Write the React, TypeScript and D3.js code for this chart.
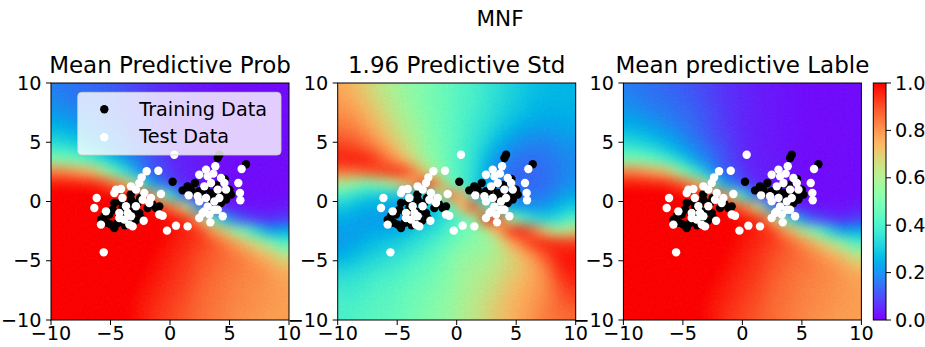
import React from "react";
import * as d3 from "d3";

// ---------- data ----------
const cellCentersX = [-9.5, -8.5, -7.5, -6.5, -5.5, -4.5, -3.5, -2.5, -1.5, -0.5, 0.5, 1.5, 2.5, 3.5, 4.5, 5.5, 6.5, 7.5, 8.5, 9.5];
const cellCentersY = [9.5, 8.5, 7.5, 6.5, 5.5, 4.5, 3.5, 2.5, 1.5, 0.5, -0.5, -1.5, -2.5, -3.5, -4.5, -5.5, -6.5, -7.5, -8.5, -9.5];
const axisTicks = [-10, -5, 0, 5, 10];
const colorbarTicks = [0, 0.2, 0.4, 0.6, 0.8, 1.0];
const titles = ["Mean Predictive Prob", "1.96 Predictive Std", "Mean predictive Lable"];
const legendLabels = ["Training Data", "Test Data"];

// mean predictive probability, rows from y=9.5 (top) to y=-9.5 (bottom)
const meanProbRows = [
  [0.17, 0.16, 0.15, 0.14, 0.13, 0.12, 0.10, 0.09, 0.07, 0.06, 0.05, 0.04, 0.035, 0.03, 0.025, 0.02, 0.02, 0.02, 0.02, 0.02],
  [0.19, 0.17, 0.16, 0.15, 0.14, 0.13, 0.11, 0.09, 0.07, 0.06, 0.05, 0.04, 0.035, 0.03, 0.025, 0.02, 0.02, 0.02, 0.02, 0.02],
  [0.21, 0.2, 0.18, 0.17, 0.15, 0.14, 0.12, 0.1, 0.08, 0.06, 0.05, 0.04, 0.035, 0.03, 0.025, 0.02, 0.02, 0.02, 0.02, 0.02],
  [0.25, 0.23, 0.21, 0.19, 0.17, 0.15, 0.13, 0.1, 0.08, 0.06, 0.05, 0.04, 0.035, 0.03, 0.025, 0.02, 0.02, 0.02, 0.02, 0.02],
  [0.3, 0.28, 0.26, 0.23, 0.2, 0.17, 0.14, 0.11, 0.09, 0.065, 0.05, 0.04, 0.035, 0.03, 0.025, 0.02, 0.02, 0.02, 0.02, 0.02],
  [0.38, 0.36, 0.33, 0.29, 0.25, 0.2, 0.17, 0.13, 0.1, 0.07, 0.05, 0.04, 0.035, 0.03, 0.025, 0.02, 0.02, 0.02, 0.02, 0.02],
  [0.52, 0.5, 0.47, 0.42, 0.35, 0.27, 0.2, 0.16, 0.11, 0.08, 0.05, 0.045, 0.04, 0.03, 0.025, 0.02, 0.02, 0.02, 0.02, 0.02],
  [0.82, 0.8, 0.76, 0.72, 0.6, 0.46, 0.33, 0.2, 0.12, 0.1, 0.06, 0.045, 0.04, 0.03, 0.025, 0.02, 0.02, 0.02, 0.02, 0.02],
  [0.96, 0.96, 0.95, 0.94, 0.9, 0.82, 0.7, 0.48, 0.25, 0.14, 0.08, 0.05, 0.04, 0.03, 0.025, 0.02, 0.02, 0.02, 0.02, 0.02],
  [1, 1, 1, 1, 0.99, 0.98, 0.96, 0.9, 0.8, 0.5, 0.3, 0.1, 0.05, 0.035, 0.03, 0.025, 0.02, 0.02, 0.02, 0.02],
  [1, 1, 1, 1, 1, 1, 1, 0.99, 0.98, 0.9, 0.8, 0.6, 0.2, 0.1, 0.05, 0.04, 0.03, 0.03, 0.03, 0.04],
  [1, 1, 1, 1, 1, 1, 1, 1, 1, 0.98, 0.96, 0.92, 0.75, 0.5, 0.3, 0.15, 0.1, 0.07, 0.06, 0.08],
  [1, 1, 1, 1, 1, 1, 1, 1, 1, 0.99, 0.97, 0.95, 0.92, 0.8, 0.7, 0.55, 0.45, 0.32, 0.22, 0.25],
  [1, 1, 1, 1, 1, 1, 1, 1, 1, 0.98, 0.96, 0.94, 0.92, 0.89, 0.84, 0.78, 0.7, 0.62, 0.52, 0.42],
  [1, 1, 1, 1, 1, 1, 1, 1, 0.99, 0.97, 0.95, 0.93, 0.9, 0.88, 0.86, 0.83, 0.8, 0.75, 0.7, 0.62],
  [1, 1, 1, 1, 1, 1, 1, 1, 0.98, 0.96, 0.94, 0.92, 0.89, 0.87, 0.85, 0.84, 0.82, 0.8, 0.77, 0.73],
  [1, 1, 1, 1, 1, 1, 1, 0.99, 0.97, 0.95, 0.93, 0.91, 0.88, 0.86, 0.84, 0.83, 0.82, 0.81, 0.79, 0.77],
  [1, 1, 1, 1, 1, 1, 1, 0.98, 0.96, 0.94, 0.92, 0.9, 0.87, 0.85, 0.84, 0.82, 0.81, 0.8, 0.79, 0.78],
  [1, 1, 1, 1, 1, 1, 0.99, 0.97, 0.95, 0.93, 0.91, 0.89, 0.86, 0.85, 0.83, 0.82, 0.81, 0.8, 0.79, 0.78],
  [1, 1, 1, 1, 1, 1, 0.99, 0.97, 0.94, 0.92, 0.9, 0.88, 0.86, 0.84, 0.83, 0.81, 0.8, 0.79, 0.78, 0.78],
];

// normalised 1.96 predictive std, columns from x=-9.5 (left) to x=9.5 (right), each top -> bottom
const stdColumns = [
  [0.76, 0.78, 0.8, 0.83, 0.87, 0.92, 0.95, 0.85, 0.6, 0.4, 0.3, 0.25, 0.22, 0.22, 0.25, 0.3, 0.35, 0.38, 0.4, 0.4],
  [0.73, 0.75, 0.78, 0.81, 0.85, 0.9, 0.96, 0.85, 0.55, 0.35, 0.27, 0.23, 0.22, 0.24, 0.27, 0.32, 0.36, 0.38, 0.4, 0.42],
  [0.69, 0.71, 0.74, 0.77, 0.81, 0.87, 0.95, 0.88, 0.5, 0.32, 0.25, 0.22, 0.23, 0.26, 0.3, 0.34, 0.38, 0.4, 0.42, 0.43],
  [0.64, 0.66, 0.69, 0.72, 0.76, 0.82, 0.9, 0.9, 0.55, 0.3, 0.24, 0.22, 0.24, 0.28, 0.32, 0.36, 0.4, 0.42, 0.43, 0.44],
  [0.6, 0.62, 0.64, 0.67, 0.7, 0.75, 0.83, 0.93, 0.6, 0.3, 0.22, 0.21, 0.24, 0.3, 0.34, 0.38, 0.41, 0.43, 0.44, 0.45],
  [0.56, 0.57, 0.59, 0.61, 0.64, 0.68, 0.75, 0.92, 0.7, 0.3, 0.22, 0.22, 0.26, 0.32, 0.36, 0.4, 0.43, 0.45, 0.46, 0.47],
  [0.53, 0.54, 0.55, 0.57, 0.59, 0.61, 0.66, 0.82, 0.8, 0.3, 0.22, 0.24, 0.3, 0.35, 0.39, 0.43, 0.45, 0.47, 0.48, 0.49],
  [0.5, 0.5, 0.51, 0.52, 0.53, 0.54, 0.57, 0.65, 0.93, 0.35, 0.25, 0.28, 0.33, 0.38, 0.42, 0.45, 0.47, 0.49, 0.5, 0.51],
  [0.48, 0.48, 0.48, 0.48, 0.49, 0.5, 0.5, 0.55, 0.8, 0.55, 0.3, 0.32, 0.37, 0.42, 0.45, 0.48, 0.5, 0.51, 0.52, 0.53],
  [0.45, 0.45, 0.45, 0.45, 0.45, 0.45, 0.45, 0.45, 0.5, 0.85, 0.45, 0.38, 0.42, 0.46, 0.5, 0.52, 0.53, 0.54, 0.55, 0.56],
  [0.42, 0.42, 0.42, 0.41, 0.41, 0.4, 0.4, 0.4, 0.4, 0.75, 0.75, 0.45, 0.47, 0.5, 0.54, 0.56, 0.57, 0.58, 0.59, 0.6],
  [0.4, 0.4, 0.39, 0.38, 0.37, 0.36, 0.35, 0.34, 0.33, 0.35, 0.9, 0.55, 0.5, 0.53, 0.56, 0.58, 0.6, 0.61, 0.62, 0.63],
  [0.37, 0.37, 0.36, 0.35, 0.33, 0.3, 0.27, 0.25, 0.24, 0.25, 0.5, 0.95, 0.6, 0.55, 0.58, 0.6, 0.62, 0.64, 0.66, 0.67],
  [0.35, 0.34, 0.33, 0.31, 0.28, 0.24, 0.2, 0.18, 0.17, 0.2, 0.35, 0.9, 0.75, 0.62, 0.62, 0.64, 0.66, 0.68, 0.7, 0.71],
  [0.32, 0.31, 0.3, 0.28, 0.24, 0.2, 0.17, 0.15, 0.15, 0.17, 0.25, 0.6, 0.92, 0.75, 0.68, 0.68, 0.7, 0.72, 0.73, 0.74],
  [0.3, 0.29, 0.28, 0.25, 0.21, 0.18, 0.15, 0.14, 0.14, 0.16, 0.22, 0.45, 0.95, 0.85, 0.74, 0.72, 0.73, 0.75, 0.76, 0.77],
  [0.28, 0.27, 0.26, 0.23, 0.2, 0.17, 0.15, 0.14, 0.14, 0.16, 0.2, 0.35, 0.85, 0.93, 0.82, 0.77, 0.77, 0.78, 0.79, 0.8],
  [0.27, 0.26, 0.25, 0.23, 0.2, 0.17, 0.16, 0.15, 0.15, 0.17, 0.22, 0.32, 0.7, 0.95, 0.9, 0.84, 0.81, 0.81, 0.82, 0.83],
  [0.26, 0.26, 0.25, 0.23, 0.21, 0.19, 0.17, 0.17, 0.17, 0.2, 0.26, 0.35, 0.6, 0.93, 0.96, 0.93, 0.9, 0.87, 0.86, 0.85],
  [0.26, 0.26, 0.25, 0.24, 0.22, 0.2, 0.19, 0.19, 0.2, 0.24, 0.3, 0.42, 0.65, 0.92, 0.97, 0.97, 0.95, 0.92, 0.89, 0.86],
];

// mean predictive label looks the same as the mean predictive probability
const meanLabelRows = meanProbRows;

const trainingPoints: [number, number][] = [
  [0.22, 1.67], [4.15, 3.95], [4.01, 3.67], [6.39, 3.14], [1.06, 0.94], [1.48, 1.28], [2.1, 1.56], [1.76, 1.0],
  [2.46, 0.86], [4.99, 1.0], [5.13, 0.58], [4.71, 0.16], [4.29, -0.13], [3.45, 0.72], [2.75, 0.86], [3.0, 1.2],
  [3.9, 1.4], [4.5, 0.6], [3.2, 0.2], [2.2, 0.6], [4.6, 1.9], [3.8, 0.4],
  [-5.8, -1.53], [-5.52, -1.25], [-5.1, -1.11], [-4.82, -0.69], [-4.68, -0.13], [-4.96, -1.95], [-4.68, -2.24],
  [-4.4, -1.81], [-3.98, -0.55], [-3.56, -0.27], [-3.0, -0.83], [-2.58, -0.97], [-2.44, -1.39], [-0.9, -0.41],
  [-1.18, -0.55], [-1.88, -0.55], [-3.28, 0.15], [-2.72, -0.13], [-4.12, -0.01], [-3.56, -1.53], [-4.3, -1.0],
  [-3.8, -2.0], [-2.9, -1.6], [-3.3, 0.6], [-2.5, 0.3], [-1.5, -0.2], [-5.3, -1.8], [-4.0, -1.2], [-3.4, -0.9],
];

const testPoints: [number, number][] = [
  [0.36, 3.95], [-1.96, 2.55], [-0.98, 2.6], [-2.38, 2.04], [-2.58, 1.56], [-4.54, 1.0], [-4.12, 1.05], [-4.68, 0.72],
  [-3.28, 1.28], [-2.86, 1.0], [-2.16, 0.72], [-1.6, 0.3], [-0.76, 0.63], [-6.16, 0.3], [-6.36, -0.55], [-5.38, -0.83],
  [-4.0, 0.3], [-3.7, -0.4], [-2.86, -0.4], [-2.3, 0.15], [-1.74, -0.13], [-4.26, -1.39], [-3.84, -1.53], [-3.28, -1.25],
  [-3.42, -1.95], [-3.14, -2.1], [-2.21, -1.62], [-5.8, -1.95], [-0.9, -1.1], [-0.62, -1.2], [-0.25, -2.46], [0.5, -2.04],
  [1.48, -2.1], [-5.57, -4.29], [-4.26, -0.97], [-3.56, -0.97],
  [3.03, 2.69], [3.81, 2.97], [6.02, 2.74], [2.46, 2.26], [3.17, 2.12], [3.64, 2.35], [4.29, 1.98], [4.57, 1.56],
  [3.45, 1.56], [2.89, 1.28], [4.01, 1.0], [4.71, 1.0], [5.74, 1.56], [5.88, 0.72], [5.91, 0.1], [1.57, 0.52],
  [2.32, 0.44], [2.46, 0.01], [3.03, 0.3], [3.73, 0.01], [4.15, 0.3], [3.17, -0.41], [3.73, -0.69], [2.75, -0.97],
  [3.31, -1.11], [4.01, -0.69], [4.43, -1.25], [2.46, -1.39], [3.39, -1.76], [2.89, -0.83],
];

// ---------- matplotlib "rainbow" colormap ----------
function rainbow(t: number): string {
  const u = Math.max(0, Math.min(1, t));
  const r = Math.min(1, Math.abs(2 * u - 0.5));
  const g = Math.sin(Math.PI * u);
  const b = Math.cos((Math.PI * u) / 2);
  return d3.rgb(r * 255, g * 255, b * 255).formatHex();
}

const FONT = "DejaVu Sans, Liberation Sans, sans-serif";
const fmtTick = (v: number) => String(v).replace("-", "\u2212");

export default function App() {
  const W = 925, H = 347;
  const top = 83, plotW = 238, plotH = 237;
  const lefts = [51, 337.7, 623.4];
  const color = d3.scaleSequential(rainbow).domain([0, 1]);
  const grids = [meanProbRows, d3.transpose(stdColumns) as number[][], meanLabelRows];
  const tickFont = 19.2;
  const pad = 16;

  const cbX = 873.3, cbW = 12.7;
  const cbScale = d3.scaleLinear().domain([0, 1]).range([top + plotH, top]);
  const cbStops = d3.ticks(0, 1, 50);

  return (
    <svg
      width={W}
      height={H}
      viewBox={`0 0 ${W} ${H}`}
      style={{ position: "absolute", left: 0, top: 0, display: "block", background: "#fff" }}
      fontFamily={FONT}
    >
      <defs>
        <filter id="smooth" x="-10%" y="-10%" width="120%" height="120%" colorInterpolationFilters="sRGB">
          <feGaussianBlur in="SourceGraphic" stdDeviation="6" result="b" />
          <feTurbulence type="fractalNoise" baseFrequency="0.45" numOctaves="1" seed="3" result="n" />
          <feComposite in="b" in2="n" operator="arithmetic" k1="0" k2="1" k3="0.09" k4="-0.045" />
        </filter>
        {lefts.map((l, k) => (
          <clipPath id={`clip${k}`} key={k}>
            <rect x={l} y={top} width={plotW} height={plotH} />
          </clipPath>
        ))}
        <linearGradient id="cbgrad" x1="0" y1="1" x2="0" y2="0">
          {cbStops.map((s) => (
            <stop key={s} offset={`${s * 100}%`} stopColor={color(s)} />
          ))}
        </linearGradient>
      </defs>

      <text x={500} y={26} textAnchor="middle" fontSize={21.5} fill="#000">MNF</text>

      {lefts.map((left, k) => {
        const x = d3.scaleLinear().domain([-10, 10]).range([left, left + plotW]);
        const y = d3.scaleLinear().domain([-10, 10]).range([top + plotH, top]);
        const grid = grids[k];
        const nR = grid.length, nC = grid[0].length;
        return (
          <g key={k}>
            <g clipPath={`url(#clip${k})`}>
              <g filter="url(#smooth)">
                {grid.map((row, i) =>
                  row.map((v, j) => {
                    const cx = cellCentersX[j], cy = cellCentersY[i];
                    let x0 = x(cx - 0.5), x1 = x(cx + 0.5);
                    let y0 = y(cy + 0.5), y1 = y(cy - 0.5);
                    if (j === 0) x0 -= pad;
                    if (j === nC - 1) x1 += pad;
                    if (i === 0) y0 -= pad;
                    if (i === nR - 1) y1 += pad;
                    return (
                      <rect key={`${i}-${j}`} x={x0 - 0.4} y={y0 - 0.4} width={x1 - x0 + 0.8} height={y1 - y0 + 0.8} fill={color(v)} />
                    );
                  })
                )}
              </g>
            </g>

            {trainingPoints.map((p, i) => (
              <circle key={`tr${i}`} cx={x(p[0])} cy={y(p[1])} r={4.2} fill="#000" />
            ))}
            {testPoints.map((p, i) => (
              <circle key={`te${i}`} cx={x(p[0])} cy={y(p[1])} r={4.2} fill="#fff" />
            ))}

            <rect x={left} y={top} width={plotW} height={plotH} fill="none" stroke="#000" strokeWidth={1} />

            {axisTicks.map((t) => (
              <g key={`xt${t}`}>
                <line x1={x(t)} x2={x(t)} y1={top + plotH} y2={top + plotH + 5} stroke="#000" strokeWidth={1} />
                <text x={x(t)} y={top + plotH + 20} textAnchor="middle" fontSize={tickFont} fill="#000">{fmtTick(t)}</text>
              </g>
            ))}
            {axisTicks.map((t) => (
              <g key={`yt${t}`}>
                <line x1={left - 5} x2={left} y1={y(t)} y2={y(t)} stroke="#000" strokeWidth={1} />
                <text x={left - 9.5} y={y(t) + 6.5} textAnchor="end" fontSize={tickFont} fill="#000">{fmtTick(t)}</text>
              </g>
            ))}

            <text x={left + plotW / 2} y={73} textAnchor="middle" fontSize={23} fill="#000">{titles[k]}</text>

            {k === 0 && (
              <g>
                <rect x={77.7} y={92.3} width={203.3} height={62.7} rx={4} fill="#fff" fillOpacity={0.8} stroke="#cccccc" strokeOpacity={0.8} strokeWidth={1} />
                <circle cx={104.3} cy={109.3} r={4.2} fill="#000" />
                <circle cx={104.3} cy={137.3} r={4.2} fill="#fff" />
                <text x={139.3} y={115.5} fontSize={tickFont} fill="#000">{legendLabels[0]}</text>
                <text x={139.3} y={143.2} fontSize={tickFont} fill="#000">{legendLabels[1]}</text>
              </g>
            )}
          </g>
        );
      })}

      {/* colorbar */}
      <rect x={cbX} y={top} width={cbW} height={plotH} fill="url(#cbgrad)" stroke="#000" strokeWidth={1} />
      {colorbarTicks.map((t) => (
        <g key={`cb${t}`}>
          <line x1={cbX + cbW} x2={cbX + cbW + 5} y1={cbScale(t)} y2={cbScale(t)} stroke="#000" strokeWidth={1} />
          <text x={cbX + cbW + 9} y={cbScale(t) + 6.5} fontSize={tickFont} fill="#000">{t.toFixed(1)}</text>
        </g>
      ))}
    </svg>
  );
}
